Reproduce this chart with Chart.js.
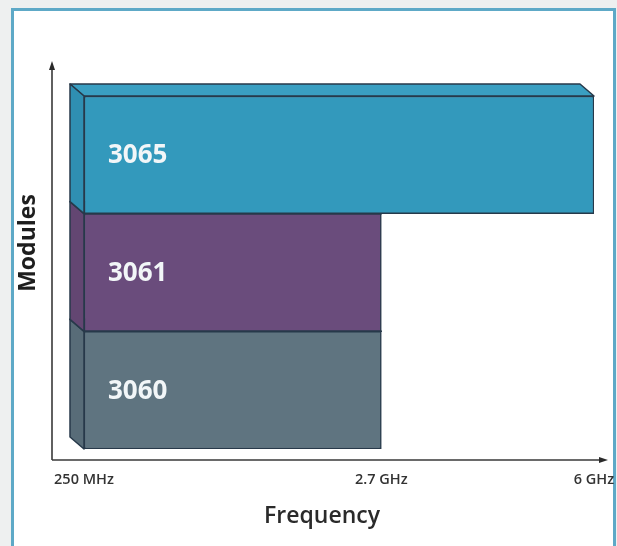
<!DOCTYPE html>
<html>
<head>
<meta charset="utf-8">
<script src="https://cdn.jsdelivr.net/npm/chart.js@4/dist/chart.umd.min.js"></script>
<style>
  html, body { margin: 0; padding: 0; background: #eef0f0; }
  #wrap { position: relative; width: 617px; height: 546px; }
</style>
</head>
<body>
<div id="wrap"><canvas id="c" width="617" height="546"></canvas></div>
<script>
// ---- data ----
const modules = ['3065', '3061', '3060'];
const freqStartMHz = [250, 250, 250];
const freqEndMHz = [6000, 2700, 2700];
const tickValuesMHz = [250, 2700, 6000];
const tickLabels = ['250 MHz', '2.7 GHz', '6 GHz'];
const xTitle = 'Frequency';
const yTitle = 'Modules';
const frontColors = ['#3399bc', '#6a4c7c', '#5f7480'];
const sideColors = ['#2f8fb2', '#634672', '#586c78'];
const topColors = ['#3a9fc2', '#71548a', '#667a86'];

// axis stops of the (non-linear) frequency axis of the reference
const axisStopsMHz = [250, 2700, 6000];
const axisStopsFrac = [0, 0.583, 1];

function toFrac(v) {
  const s = axisStopsMHz, f = axisStopsFrac;
  if (v <= s[0]) return f[0] + (v - s[0]) / (s[1] - s[0]) * (f[1] - f[0]);
  for (let i = 0; i < s.length - 1; i++) {
    if (v <= s[i + 1]) return f[i] + (v - s[i]) / (s[i + 1] - s[i]) * (f[i + 1] - f[i]);
  }
  const n = s.length - 1;
  return f[n] + (v - s[n]) / (s[n] - s[n - 1]) * (f[n] - f[n - 1]);
}
function fromFrac(d) {
  const s = axisStopsMHz, f = axisStopsFrac;
  for (let i = 0; i < f.length - 1; i++) {
    if (d <= f[i + 1] || i === f.length - 2) return s[i] + (d - f[i]) / (f[i + 1] - f[i]) * (s[i + 1] - s[i]);
  }
}

class PiecewiseScale extends Chart.LinearScale {
  getPixelForValue(value) { return this.getPixelForDecimal(toFrac(value)); }
  getValueForPixel(pixel) { return fromFrac(this.getDecimalForPixel(pixel)); }
}
PiecewiseScale.id = 'piecewise';
PiecewiseScale.defaults = Chart.LinearScale.defaults;
Chart.register(PiecewiseScale);

const DX = 14, DY = 12;

const framePlugin = {
  id: 'frame',
  beforeDraw(chart) {
    const ctx = chart.ctx;
    ctx.save();
    ctx.fillStyle = '#eef0f0';
    ctx.fillRect(0, 0, chart.width, chart.height);
    ctx.fillStyle = '#ffffff';
    ctx.fillRect(12, 9, 603, 545);
    ctx.strokeStyle = '#5ea9c7';
    ctx.lineWidth = 3;
    ctx.beginPath();
    ctx.moveTo(12.5, 560);
    ctx.lineTo(12.5, 9.5);
    ctx.lineTo(614.5, 9.5);
    ctx.lineTo(614.5, 560);
    ctx.stroke();
    ctx.restore();
  }
};

const depthPlugin = {
  id: 'depth',
  beforeDatasetsDraw(chart) {
    const ctx = chart.ctx;
    const meta = chart.getDatasetMeta(0);
    ctx.save();
    ctx.lineWidth = 1.5;
    ctx.strokeStyle = '#27394a';
    ctx.lineJoin = 'round';
    for (let i = meta.data.length - 1; i >= 0; i--) {
      const el = meta.data[i];
      const p = el.getProps(['x', 'y', 'base', 'height'], true);
      const left = Math.min(p.base, p.x), right = Math.max(p.base, p.x);
      const top = p.y - p.height / 2, bottom = p.y + p.height / 2;
      ctx.fillStyle = topColors[i];
      ctx.beginPath();
      ctx.moveTo(left, top);
      ctx.lineTo(left - DX, top - DY);
      ctx.lineTo(right - DX, top - DY);
      ctx.lineTo(right, top);
      ctx.closePath();
      ctx.fill();
      ctx.stroke();
      ctx.fillStyle = sideColors[i];
      ctx.beginPath();
      ctx.moveTo(left, top);
      ctx.lineTo(left - DX, top - DY);
      ctx.lineTo(left - DX, bottom - DY);
      ctx.lineTo(left, bottom);
      ctx.closePath();
      ctx.fill();
      ctx.stroke();
    }
    ctx.restore();
  },
  afterDatasetsDraw(chart) {
    const ctx = chart.ctx;
    const meta = chart.getDatasetMeta(0);
    ctx.save();
    ctx.fillStyle = '#f2f6f8';
    ctx.font = 'bold 26px "Open Sans", sans-serif';
    ctx.textAlign = 'left';
    ctx.textBaseline = 'middle';
    meta.data.forEach((el, i) => {
      const p = el.getProps(['x', 'y', 'base'], true);
      const left = Math.min(p.base, p.x);
      ctx.fillText(modules[i], left + 24, p.y + 1);
    });
    ctx.restore();
  }
};

const axesPlugin = {
  id: 'arrows',
  afterDraw(chart) {
    const ctx = chart.ctx;
    const a = chart.chartArea;
    const ox = a.left - 32, oy = a.bottom + 11;
    const topY = a.top - 35, rightX = a.right + 14;
    ctx.save();
    ctx.strokeStyle = '#3a3a3a';
    ctx.fillStyle = '#2a2a2a';
    ctx.lineWidth = 1.6;
    ctx.beginPath();
    ctx.moveTo(ox, oy);
    ctx.lineTo(ox, topY + 6);
    ctx.moveTo(ox, oy);
    ctx.lineTo(rightX - 6, oy);
    ctx.stroke();
    ctx.beginPath();
    ctx.moveTo(ox, topY);
    ctx.lineTo(ox - 3, topY + 9);
    ctx.lineTo(ox + 3, topY + 9);
    ctx.closePath();
    ctx.fill();
    ctx.beginPath();
    ctx.moveTo(rightX, oy);
    ctx.lineTo(rightX - 9, oy - 3);
    ctx.lineTo(rightX - 9, oy + 3);
    ctx.closePath();
    ctx.fill();
    // axis titles
    ctx.textAlign = 'center';
    ctx.textBaseline = 'middle';
    ctx.fillStyle = '#2a2a2a';
    ctx.font = '600 23px "Open Sans", sans-serif';
    ctx.fillText(xTitle, 322, 516);
    ctx.translate(28, 243);
    ctx.rotate(-Math.PI / 2);
    ctx.fillStyle = '#1e1e1e';
    ctx.font = 'bold 23px "Open Sans", sans-serif';
    ctx.fillText(yTitle, 0, 0);
    ctx.restore();
  }
};

new Chart(document.getElementById('c'), {
  type: 'bar',
  data: {
    labels: modules,
    datasets: [{
      label: 'Frequency range',
      data: modules.map((m, i) => [freqStartMHz[i], freqEndMHz[i]]),
      backgroundColor: frontColors,
      borderColor: '#27394a',
      borderWidth: 1.5,
      borderSkipped: false,
      barPercentage: 1,
      categoryPercentage: 1
    }]
  },
  options: {
    indexAxis: 'y',
    responsive: false,
    animation: false,
    devicePixelRatio: 1,
    layout: { padding: { left: 84, right: 23, top: 96, bottom: 16 } },
    plugins: { legend: { display: false }, tooltip: { enabled: false } },
    scales: {
      x: {
        type: 'piecewise',
        min: 250,
        max: 6000,
        afterBuildTicks: s => { s.ticks = tickValuesMHz.map(v => ({ value: v })); },
        afterFit: s => { s.height = 81; s.paddingLeft = 0; s.paddingRight = 0; },
        grid: { display: false, drawTicks: false },
        border: { display: false },
        ticks: {
          autoSkip: false,
          maxRotation: 0,
          padding: 22,
          color: '#333333',
          font: { family: '"Open Sans", sans-serif', size: 14.5, weight: '600' },
          callback: (v, i) => tickLabels[i]
        }
      },
      y: {
        type: 'category',
        display: false
      }
    }
  },
  plugins: [framePlugin, depthPlugin, axesPlugin]
});
</script>
</body>
</html>
